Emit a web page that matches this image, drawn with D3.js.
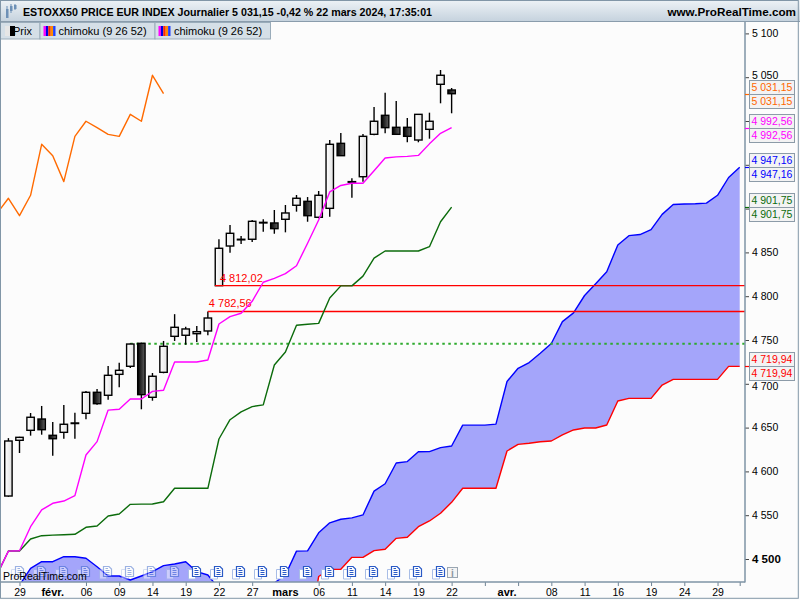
<!DOCTYPE html>
<html>
<head>
<meta charset="utf-8">
<script src="https://cdn.jsdelivr.net/npm/d3@7"></script>
<style>
    body { margin: 0; background: #ffffff; }
    svg { display: block; font-family: "Liberation Sans", Arial, sans-serif; }
</style>
</head>
<body>
<div class="container"></div>
<script>
const WIDTH = 800;
const HEIGHT = 600;
const PLOT_RIGHT = 745;
const PLOT_TOP = 22;
const PLOT_BOTTOM = 582;

// trading days, the cloud runs 26 days past the last candle
const days = [
    "2024-01-25", "2024-01-26", "2024-01-29", "2024-01-30", "2024-01-31",
    "2024-02-01", "2024-02-02", "2024-02-05", "2024-02-06", "2024-02-07", "2024-02-08", "2024-02-09",
    "2024-02-12", "2024-02-13", "2024-02-14", "2024-02-15", "2024-02-16",
    "2024-02-19", "2024-02-20", "2024-02-21", "2024-02-22", "2024-02-23",
    "2024-02-26", "2024-02-27", "2024-02-28", "2024-02-29", "2024-03-01",
    "2024-03-04", "2024-03-05", "2024-03-06", "2024-03-07", "2024-03-08",
    "2024-03-11", "2024-03-12", "2024-03-13", "2024-03-14", "2024-03-15",
    "2024-03-18", "2024-03-19", "2024-03-20", "2024-03-21", "2024-03-22",
    "2024-03-25", "2024-03-26", "2024-03-27", "2024-03-28",
    "2024-04-02", "2024-04-03", "2024-04-04", "2024-04-05",
    "2024-04-08", "2024-04-09", "2024-04-10", "2024-04-11", "2024-04-12",
    "2024-04-15", "2024-04-16", "2024-04-17", "2024-04-18", "2024-04-19",
    "2024-04-22", "2024-04-23", "2024-04-24", "2024-04-25", "2024-04-26",
    "2024-04-29", "2024-04-30", "2024-05-02"
];

// candles from 26 Jan to 22 Mar
const candleDays = days.slice(1, 42);
const open = [
    4571.9, 4635.5, 4646.9, 4659.8, 4641.2, 4644.6, 4654.9, 4666.3, 4690.3, 4686.9,
    4710.8, 4720.0, 4746.2, 4684.6, 4713.1, 4754.2, 4755.4, 4757.2, 4760.3, 4812.02,
    4857.3, 4864.5, 4865.0, 4883.9, 4883.6, 4887.8, 4903.8, 4908.3, 4890.1, 4900.3,
    4974.5, 4930.4, 4936.4, 4984.8, 5006.5, 4992.8, 4992.8, 4978.3, 4990.5, 5041.9,
    5035.4
];
const high = [
    4638.0, 4639.5, 4666.7, 4674.7, 4656.4, 4675.8, 4667.0, 4691.8, 4694.0, 4720.3,
    4724.0, 4746.0, 4747.0, 4712.3, 4748.9, 4779.5, 4765.2, 4766.0, 4782.56, 4865.0,
    4881.3, 4868.7, 4887.0, 4887.8, 4898.4, 4904.1, 4915.5, 4913.2, 4920.1, 4978.3,
    4986.3, 4934.6, 4985.2, 5016.0, 5032.3, 5022.8, 5003.4, 5008.0, 5009.5, 5058.2,
    5037.7
];
const low = [
    4571.0, 4621.0, 4640.8, 4641.9, 4617.9, 4637.3, 4637.3, 4659.5, 4676.0, 4681.8,
    4696.0, 4718.0, 4670.9, 4680.7, 4712.0, 4748.9, 4744.7, 4747.7, 4755.4, 4812.02,
    4849.7, 4859.6, 4861.9, 4873.6, 4871.3, 4872.9, 4896.5, 4885.0, 4889.0, 4890.8,
    4960.0, 4912.4, 4930.7, 4983.7, 4986.0, 4984.5, 4975.7, 4975.7, 4979.8, 5020.2,
    5008.8
];
const close = [
    4634.7, 4638.9, 4661.8, 4647.6, 4637.3, 4653.8, 4655.3, 4690.3, 4677.3, 4709.7,
    4715.4, 4745.4, 4687.6, 4708.6, 4742.8, 4764.5, 4762.6, 4759.5, 4775.1, 4854.7,
    4871.8, 4865.0, 4885.5, 4884.3, 4877.1, 4895.0, 4911.8, 4891.9, 4915.2, 4973.4,
    4960.4, 4930.8, 4982.5, 4999.7, 4992.4, 4984.8, 4982.5, 5007.6, 4999.7, 5052.2,
    5031.15
];

// ichimoku lines, 25 Jan to 22 Mar
const tenkan = [
    4483, 4509, 4509.5, 4536.9, 4556, 4563.6, 4566.2, 4572.3, 4618.7, 4634,
    4670, 4670.9, 4682.6, 4682.6, 4691.4, 4692.6, 4724.9, 4724.9, 4724.9, 4727.2,
    4768.3, 4776.6, 4780.5, 4794.2, 4815.9, 4820.4, 4825.7, 4834.8, 4860.4, 4887,
    4919, 4926.4, 4928.9, 4928.9, 4943.3, 4957.8, 4959, 4959.6, 4960.7, 4973.9,
    4986, 4992.56
];
const kijun = [
    4483, 4509.1, 4509.1, 4522.8, 4526.6, 4527.2, 4527.6, 4528.2, 4536.2, 4537.7,
    4549.1, 4551.4, 4562.4, 4562.6, 4562.8, 4565.4, 4580.7, 4580.7, 4580.7, 4580.7,
    4637, 4659, 4668, 4674, 4676, 4721.5, 4736.3, 4766.8, 4767.9, 4769,
    4798, 4811.8, 4811.8, 4822.9, 4843.5, 4851.6, 4851.6, 4851.6, 4851.6, 4856.5,
    4885, 4901.75
];

// cloud, 25 Jan to 2 May
const spanA = [
    4440, 4452, 4470, 4489.4, 4496.9, 4496.9, 4502.6, 4502.6, 4500.8, 4491.2,
    4480.6, 4480.6, 4476, 4480.6, 4485.5, 4492.4, 4494.3, 4496.9, 4485.5, 4481.7,
    4466, 4455, 4450, 4452, 4462, 4472.6, 4481.7, 4509, 4509.3, 4529.9,
    4541.3, 4545.4, 4546.9, 4550.3, 4577.5, 4585.9, 4609.6, 4611.2, 4622.5, 4622.6,
    4627.1, 4629, 4652.8, 4652.8, 4652.8, 4654, 4702.6, 4717.7, 4724.3, 4734.9,
    4746, 4771, 4781, 4800.8, 4814.2, 4828, 4858.5, 4869.1, 4870.4, 4875.9,
    4893.4, 4904.7, 4905.3, 4905.6, 4906.2, 4915.2, 4935.5, 4947.16
];
const spanB = [
    4385, 4385, 4385, 4385, 4385, 4388, 4388, 4388, 4388, 4390,
    4390, 4390, 4390, 4392, 4392, 4395, 4395, 4395, 4398, 4398,
    4400, 4400, 4400, 4402, 4402, 4405, 4405, 4405, 4407, 4480,
    4488.2, 4488.2, 4501.9, 4501.9, 4509.5, 4511.1, 4523.6, 4524.8, 4536.9, 4543.4,
    4552.2, 4564.7, 4580.7, 4580.7, 4580.7, 4580.7, 4623.3, 4630.9, 4632.1, 4633.9,
    4634.7, 4641.6, 4647.3, 4649.5, 4649.5, 4653, 4680.4, 4683.4, 4683.4, 4683.4,
    4698.6, 4705.1, 4705.1, 4705.1, 4705.1, 4705.1, 4719.9, 4719.94
];

// horizontal levels drawn on the chart
const gapLevels = [4812.02, 4782.56];
const gapStart = ["2024-02-22", "2024-02-21"];
const dottedLevel = 4745.7;
const dottedStart = "2024-02-12";

// calendar events (icons along the bottom)
const eventDays = [
    "2024-01-29", "2024-01-31", "2024-02-02", "2024-02-06", "2024-02-08", "2024-02-12",
    "2024-02-14", "2024-02-16", "2024-02-20", "2024-02-22", "2024-02-26", "2024-02-28",
    "2024-03-01", "2024-03-05", "2024-03-07", "2024-03-11", "2024-03-13", "2024-03-15",
    "2024-03-19", "2024-03-21"
];
const infoDay = "2024-03-22";

const yTicks = [4500, 4550, 4600, 4650, 4700, 4750, 4800, 4850, 4900, 4950, 5000, 5050, 5100];
const tickDays = [
    "2024-01-29", "2024-02-06", "2024-02-09", "2024-02-14", "2024-02-19", "2024-02-22",
    "2024-02-27", "2024-03-06", "2024-03-11", "2024-03-14", "2024-03-19", "2024-03-22",
    "2024-03-27", "2024-04-03", "2024-04-08", "2024-04-11", "2024-04-16", "2024-04-19",
    "2024-04-24", "2024-04-29", "2024-05-02"
];
const tickLabels = ["29", "06", "09", "14", "19", "22", "27", "06", "11", "14", "19", "22",
    "", "", "08", "11", "16", "19", "24", "29", ""];
const monthDays = ["2024-02-01", "2024-03-01", "2024-04-02"];
const monthLabels = ["févr.", "mars", "avr."];

const titleText = "ESTOXX50 PRICE EUR INDEX Journalier 5 031,15 -0,42 % 22 mars 2024, 17:35:01";
const legendLabels = ["Prix", "chimoku (9 26 52)", "chimoku (9 26 52)"];

var fr = d3.formatLocale({decimal: ",", thousands: " ", grouping: [3], currency: ["", "€"]});
var fmtPrice = fr.format(",.2f");
var fmtTick = fr.format(",");

var svg = d3.select('.container').append('svg')
    .attr('width', WIDTH)
    .attr('height', HEIGHT);

var defs = svg.append('defs');
defs.append('clipPath').attr('id', 'plotClip')
    .append('rect')
    .attr('x', 1).attr('y', PLOT_TOP)
    .attr('width', PLOT_RIGHT - 1).attr('height', PLOT_BOTTOM - PLOT_TOP);

var addGradient = function (id, c0, c1, vertical) {
    var g = defs.append('linearGradient').attr('id', id);
    if (vertical) g.attr('x1', 0).attr('y1', 0).attr('x2', 0).attr('y2', 1);
    g.append('stop').attr('offset', '0%').attr('stop-color', c0);
    g.append('stop').attr('offset', '100%').attr('stop-color', c1);
};
addGradient('upBody', '#ffffff', '#e2e2e2', false);
addGradient('downBody', '#000000', '#606060', false);
addGradient('titleBg', '#edf2f6', '#c6d3de', true);

svg.append('rect')
    .attr('width', WIDTH).attr('height', HEIGHT)
    .attr('fill', '#fcfcfc');

var xScale = d3.scalePoint()
    .domain(days)
    .range([-2.66, 739.7]);

var yScale = d3.scaleLinear()
    .domain([4500, 5100])
    .range([559, 33.4]);

var plot = svg.append('g').attr('clip-path', 'url(#plotClip)');

// cloud
var cloud = days.map(function (d, i) { return {day: d, a: spanA[i], b: spanB[i]}; });
plot.append('path')
    .attr('d', d3.area()
        .x(function (d) { return xScale(d.day); })
        .y0(function (d) { return yScale(d.b); })
        .y1(function (d) { return yScale(d.a); })(cloud))
    .attr('fill', '#a4a5fa');

var lineOf = function (dates, values) {
    return d3.line()
        .x(function (d) { return xScale(d[0]); })
        .y(function (d) { return yScale(d[1]); })(d3.zip(dates, values));
};

var drawLine = function (dates, values, color) {
    plot.append('path')
        .attr('d', lineOf(dates, values))
        .attr('fill', 'none')
        .attr('stroke', color)
        .attr('stroke-width', 1.4)
        .attr('stroke-linejoin', 'round');
};

drawLine(days, spanB, '#ff0000');
drawLine(days, spanA, '#0000ff');

plot.append('line')
    .attr('x1', xScale(dottedStart)).attr('x2', PLOT_RIGHT)
    .attr('y1', yScale(dottedLevel)).attr('y2', yScale(dottedLevel))
    .attr('stroke', '#2eaa2e').attr('stroke-width', 2)
    .attr('stroke-dasharray', '2.5,3.5');

// candles
var candles = candleDays.map(function (d, i) {
    return {day: d, o: open[i], h: high[i], l: low[i], c: close[i]};
});
var cg = plot.selectAll('.candle').data(candles).enter().append('g').classed('candle', true);
cg.append('line')
    .attr('x1', function (d) { return xScale(d.day); })
    .attr('x2', function (d) { return xScale(d.day); })
    .attr('y1', function (d) { return yScale(d.h); })
    .attr('y2', function (d) { return yScale(d.l); })
    .attr('stroke', '#000').attr('stroke-width', 1.4);
cg.append('rect')
    .attr('x', function (d) { return xScale(d.day) - 3.7; })
    .attr('width', 7.4)
    .attr('y', function (d) { return yScale(Math.max(d.o, d.c)); })
    .attr('height', function (d) { return Math.max(0.6, Math.abs(yScale(d.o) - yScale(d.c))); })
    .attr('fill', function (d) { return d.c >= d.o ? 'url(#upBody)' : 'url(#downBody)'; })
    .attr('stroke', '#000').attr('stroke-width', 1.4);

// gap levels
var gaps = plot.selectAll('.gap').data(gapLevels).enter().append('g').classed('gap', true);
gaps.append('path')
    .attr('d', function (v, i) {
        var x0 = xScale(gapStart[i]) - (i === 0 ? 4 : 0);
        return 'M' + x0 + ',' + yScale(v) + 'H' + PLOT_RIGHT;
    })
    .attr('fill', 'none')
    .attr('stroke', '#ff0000')
    .attr('stroke-width', 1.3);
gaps.append('text')
    .attr('x', function (v, i) { return xScale(gapStart[i]) + 1; })
    .attr('y', function (v) { return yScale(v) - 4; })
    .attr('fill', '#ff0000')
    .attr('font-size', 11)
    .text(function (v) { return fmtPrice(v); });

drawLine(days.slice(0, 42), kijun, '#0b6b0b');
drawLine(days.slice(0, 42), tenkan, '#ff00ff');

// lagging span: closes shifted 26 days back
var lagDays = [], lagValues = [];
candleDays.forEach(function (d, i) {
    var k = days.indexOf(d) - 26;
    if (k >= 0) { lagDays.push(days[k]); lagValues.push(close[i]); }
});
drawLine(lagDays, lagValues, '#ff6a00');

// event icons
var icons = plot.selectAll('.evt').data(eventDays).enter().append('g')
    .attr('transform', function (d) { return 'translate(' + (Math.round(xScale(d)) - 1) + ',566)'; })
    .attr('opacity', function (d) { return d < "2024-02-20" ? 0.45 : 1; });
icons.append('path')
    .attr('d', 'M-7.5,3.5h7v9.5h-7z')
    .attr('fill', '#fff').attr('stroke', '#a8bde6').attr('stroke-width', 1);
icons.append('path')
    .attr('d', 'M-3.5,0.5h5.5l2.5,2.5v7.5h-8z')
    .attr('fill', '#fff').attr('stroke', '#2a5ac6').attr('stroke-width', 1.2);
icons.append('path')
    .attr('d', 'M-1.5,4.5h4M-1.5,6.5h4M-1.5,8.5h4M-1.5,2.5h2.5')
    .attr('stroke', '#2a5ac6').attr('stroke-width', 1);

var info = plot.append('g').attr('transform', 'translate(' + Math.round(xScale(infoDay) - 5) + ',567)');
info.append('rect').attr('x', 0.5).attr('y', 0.5).attr('width', 10).attr('height', 10)
    .attr('fill', '#f4f4f4').attr('stroke', '#9aa6b2');
info.append('text').attr('x', 5.5).attr('y', 9.5).attr('text-anchor', 'middle')
    .attr('font-size', 10).attr('font-weight', 'bold').attr('fill', '#8a96a2').text('i');

svg.append('text')
    .attr('x', 3).attr('y', 580)
    .attr('font-size', 10.5).attr('fill', '#000')
    .text('ProRealTime.com');

// last values shown on the price axis
var lastValues = [
    {v: close[close.length - 1], color: '#ff6600'},
    {v: tenkan[tenkan.length - 1], color: '#ff00ff'},
    {v: spanA[spanA.length - 1], color: '#0000ff'},
    {v: kijun[kijun.length - 1], color: '#0b6b0b'},
    {v: spanB[spanB.length - 1], color: '#ff0000'}
];
// signed pixel distance from a tick to the nearest last-value box
var boxOffset = function (t) {
    var best = null;
    lastValues.forEach(function (d) {
        var off = yScale(t) - yScale(d.v);
        if (best === null || Math.abs(off) < Math.abs(best)) best = off;
    });
    return best;
};

// axes
var yAxis = d3.axisRight(yScale)
    .tickValues(yTicks)
    .tickSize(4)
    .tickPadding(3)
    .tickFormat(function (d) { return Math.abs(boxOffset(d)) < 10 ? "" : fmtTick(d); });
var yg = svg.append('g')
    .attr('transform', 'translate(' + PLOT_RIGHT + ',0)')
    .call(yAxis);
yg.select('.domain').remove();
yg.selectAll('line').attr('stroke', '#444');
yg.selectAll('text')
    .attr('font-family', '"Liberation Sans", Arial, sans-serif')
    .attr('fill', '#000')
    .attr('font-weight', function (d) { return d === 4500 ? 'bold' : 'normal'; })
    .attr('dy', function (d) {
        var off = boxOffset(d);
        if (Math.abs(off) >= 20) return '0.32em';
        return off > 0 ? '0.55em' : '0.12em';
    })
    .style('font-size', function (d) { return d === 4500 ? '11.5px' : '10.5px'; });

var xAxis = d3.axisBottom(xScale)
    .tickValues(tickDays)
    .tickSize(4)
    .tickPadding(3)
    .tickFormat(function (d, i) { return tickLabels[i]; });
var xg = svg.append('g')
    .attr('transform', 'translate(0,' + PLOT_BOTTOM + ')')
    .call(xAxis);
xg.select('.domain').remove();
xg.selectAll('line').attr('stroke', '#6f8394');
xg.selectAll('text')
    .attr('font-family', '"Liberation Sans", Arial, sans-serif')
    .attr('font-size', 10.5).attr('fill', '#000');

svg.selectAll('.month').data(monthDays).enter().append('text')
    .attr('x', function (d) { return xScale(d); })
    .attr('y', 596)
    .attr('text-anchor', 'middle')
    .attr('font-size', 11).attr('font-weight', 'bold')
    .text(function (d, i) { return monthLabels[i]; });

svg.append('line')
    .attr('x1', PLOT_RIGHT).attr('x2', PLOT_RIGHT)
    .attr('y1', PLOT_TOP).attr('y2', PLOT_BOTTOM + 0.5)
    .attr('stroke', '#7f95a6').attr('stroke-width', 1.5);
svg.append('line')
    .attr('x1', 0).attr('x2', PLOT_RIGHT)
    .attr('y1', PLOT_BOTTOM).attr('y2', PLOT_BOTTOM)
    .attr('stroke', '#7f95a6').attr('stroke-width', 1.5);

lastValues.forEach(function (d) {
    var y = Math.round(yScale(d.v));
    svg.append('line')
        .attr('x1', PLOT_RIGHT).attr('x2', PLOT_RIGHT + 4)
        .attr('y1', y + 0.5).attr('y2', y + 0.5)
        .attr('stroke', d.color).attr('stroke-width', 1.2);
    [y - 14, y].forEach(function (top) {
        svg.append('rect')
            .attr('x', 749.5).attr('y', top + 0.5)
            .attr('width', 45).attr('height', 14)
            .attr('fill', '#f3f3f3').attr('stroke', '#8c9ba8');
        svg.append('text')
            .attr('x', 751.5).attr('y', top + 11)
            .attr('font-size', 10.5).attr('fill', d.color)
            .text(fmtPrice(d.v));
    });
});

// title bar
svg.append('rect')
    .attr('width', WIDTH).attr('height', 21)
    .attr('fill', 'url(#titleBg)');
svg.append('line')
    .attr('x1', 0).attr('x2', WIDTH).attr('y1', 21.5).attr('y2', 21.5)
    .attr('stroke', '#8a9cac');
var ico = svg.append('g').attr('transform', 'translate(5,4)');
[[1, 5, 9, 2, 12], [5, 2, 5, 0, 9], [9, 1, 4, 0, 6]].forEach(function (c) {
    ico.append('line').attr('x1', c[0] + 1).attr('x2', c[0] + 1).attr('y1', c[3]).attr('y2', c[4])
        .attr('stroke', '#6d90b6');
    ico.append('rect').attr('x', c[0]).attr('y', c[1]).attr('width', 2.5).attr('height', c[2])
        .attr('fill', '#6d90b6');
});
svg.append('text')
    .attr('x', 23).attr('y', 16)
    .attr('font-size', 11.5).attr('font-weight', 'bold')
    .attr('textLength', 409).attr('lengthAdjust', 'spacingAndGlyphs')
    .text(titleText);
svg.append('text')
    .attr('x', 796).attr('y', 16)
    .attr('text-anchor', 'end')
    .attr('font-size', 11.7).attr('font-weight', 'bold')
    .text('www.ProRealTime.com');

// legend tabs
var tabs = [[0, 39.5, 13], [39.5, 115, 58.5], [154.5, 115.5, 174]];
tabs.forEach(function (t, i) {
    svg.append('rect')
        .attr('x', t[0] + 0.5).attr('y', 22.5)
        .attr('width', t[1]).attr('height', 16.5)
        .attr('fill', '#d5dfe7').attr('stroke', '#9aacba');
    svg.append('text')
        .attr('x', t[2]).attr('y', 34.5)
        .attr('font-size', 11).attr('fill', '#000')
        .text(legendLabels[i]);
    if (i === 0) {
        svg.append('rect').attr('x', 5).attr('y', 26).attr('width', 5).attr('height', 10).attr('fill', '#e6e6e6');
        svg.append('rect').attr('x', 10).attr('y', 26).attr('width', 5).attr('height', 10).attr('fill', '#000');
    } else {
        ['#ff00ff', '#0000e0', '#ff2a00', '#ff8c00', '#2040ff'].forEach(function (c, j) {
            svg.append('rect')
                .attr('x', t[0] + 4 + j * 2.4).attr('y', 26)
                .attr('width', 2.4).attr('height', 10)
                .attr('fill', c);
        });
    }
});

svg.append('rect')
    .attr('x', 0.5).attr('y', 0.5)
    .attr('width', 797.8).attr('height', 597.8)
    .attr('fill', 'none').attr('stroke', '#8196a7');
</script>
</body>
</html>
